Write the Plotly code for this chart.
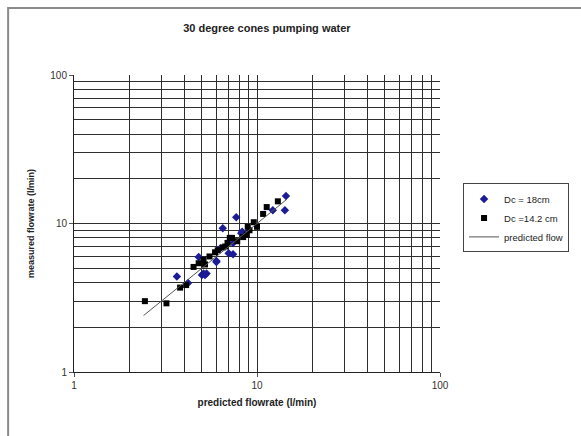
import plotly.graph_objects as go

# Dc = 18 cm (blue diamonds)
d18_pred = [14.4, 14.2, 12.2, 7.7, 6.5, 8.2, 8.3, 7.4, 7.4, 6.0, 5.3, 5.0, 4.8, 6.0, 5.1, 3.65, 4.2, 5.2, 6.3, 7.0]
d18_meas = [15.3, 12.3, 12.3, 11.0, 9.3, 8.6, 8.8, 7.4, 6.2, 5.6, 4.6, 4.5, 5.95, 5.5, 4.6, 4.4, 3.97, 4.5, 6.8, 6.3]

# Dc = 14.2 cm (black squares)
d14_pred = [13.0, 11.3, 10.8, 10.0, 9.1, 8.8, 8.4, 7.3, 6.9, 6.5, 6.1, 5.9, 5.1, 5.2, 8.9, 7.1, 4.5, 4.1, 3.8, 2.44, 3.2, 9.6, 6.7, 7.8, 5.5, 4.8]
d14_meas = [14.1, 12.9, 11.6, 9.5, 9.0, 8.4, 8.1, 8.0, 7.4, 6.9, 6.6, 6.4, 5.7, 5.3, 9.5, 8.0, 5.1, 3.85, 3.7, 3.0, 2.9, 10.2, 7.0, 7.6, 6.0, 5.4]

# predicted flow (measured = predicted)
line_x = [2.4, 14.5]
line_y = [2.4, 14.5]

minor_vals = [2, 3, 4, 5, 6, 7, 8, 9, 20, 30, 40, 50, 60, 70, 80, 90]
major_vals = [1, 10, 100]
major_text = ["1", "10", "100"]

FONT = "Liberation Sans, Arial, sans-serif"
GRID = "#2e2e2e"

fig = go.Figure()
fig.add_trace(go.Scatter(
    x=d18_pred, y=d18_meas, mode="markers", name="Dc = 18cm",
    marker=dict(symbol="diamond", size=6.5, color="#1c1c96"),
))
fig.add_trace(go.Scatter(
    x=d14_pred, y=d14_meas, mode="markers", name="Dc =14.2 cm",
    marker=dict(symbol="square", size=6, color="black"),
))
fig.add_trace(go.Scatter(
    x=line_x, y=line_y, mode="lines", name="predicted flow",
    line=dict(color="#555555", width=1),
))

axis_common = dict(
    type="log",
    range=[0, 2],
    tickvals=major_vals,
    ticktext=major_text,
    showgrid=True,
    gridcolor=GRID,
    gridwidth=1,
    minor=dict(tickvals=minor_vals, showgrid=True, gridcolor=GRID, gridwidth=1, ticks=""),
    showline=True,
    linecolor="#222222",
    linewidth=1,
    ticks="outside",
    ticklen=4,
    tickcolor="#555555",
    tickfont=dict(family=FONT, size=10, color="#333333"),
    zeroline=False,
    fixedrange=True,
)

fig.update_layout(
    width=581,
    height=436,
    margin=dict(l=74, r=141, t=75, b=64),
    paper_bgcolor="white",
    plot_bgcolor="white",
    showlegend=True,
    title=dict(
        text="<b>30 degree cones pumping water</b>",
        x=0.527, xref="paper", xanchor="center",
        y=0.936, yref="container", yanchor="middle",
        font=dict(family=FONT, size=11, color="#222222"),
    ),
    xaxis=dict(
        axis_common,
        title=dict(text="<b>predicted flowrate (l/min)</b>", standoff=8,
                   font=dict(family=FONT, size=10, color="#222222")),
    ),
    yaxis=dict(
        axis_common,
        title=dict(text="<b>measured flowrate (l/min)</b>", standoff=14,
                   font=dict(family=FONT, size=9, color="#222222")),
    ),
    legend=dict(
        x=1.063, y=0.635, xanchor="left", yanchor="top",
        bordercolor="#444444", borderwidth=1, bgcolor="white",
        font=dict(family=FONT, size=9.5, color="#222222"),
        tracegroupgap=0,
    ),
    shapes=[dict(
        type="rect", xref="paper", yref="paper",
        x0=-0.18, x1=2.0, y0=-1.0, y1=1.226,
        line=dict(color="#8a8a8a", width=2), layer="below",
    )],
)

fig.write_html("out.html")
